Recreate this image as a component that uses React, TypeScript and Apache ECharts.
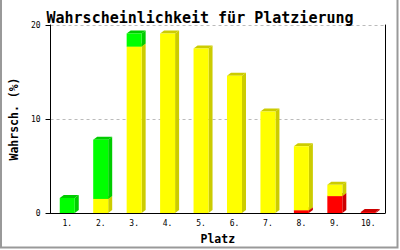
import React, { useEffect, useRef } from "react";
import * as echarts from "echarts";

const categories = ["1.", "2.", "3.", "4.", "5.", "6.", "7.", "8.", "9.", "10."];
const redValues = [0, 0, 0, 0, 0, 0, 0, 0.3, 1.8, 0.1];
const yellowValues = [0, 1.5, 17.7, 19.1, 17.5, 14.6, 10.8, 6.8, 1.2, 0];
const greenValues = [1.6, 6.3, 1.4, 0, 0, 0, 0, 0, 0, 0];

const seriesDefs = [
  { name: "rot", values: redValues, front: "#ff0000", side: "#cc0000", top: "#cc0000" },
  { name: "gelb", values: yellowValues, front: "#ffff00", side: "#cccc00", top: "#cccc00" },
  { name: "grün", values: greenValues, front: "#00ff00", side: "#00cc00", top: "#00cc00" },
];

const FONT = "'DejaVu Sans Mono', 'Liberation Mono', monospace";

export default function App() {
  const ref = useRef<HTMLDivElement>(null);
  useEffect(() => {
    if (!ref.current) return;
    const chart = echarts.init(ref.current, undefined, { renderer: "svg" });
    const bases = categories.map(() => 0);
    const series = seriesDefs.map((def) => {
      const data: number[][] = [];
      def.values.forEach((v, i) => {
        if (v > 0) {
          data.push([i, bases[i], bases[i] + v]);
          bases[i] += v;
        }
      });
      return {
        type: "custom",
        name: def.name,
        data,
        encode: { x: 0, y: [1, 2] },
        renderItem: (params: any, api: any) => {
          const i = api.value(0);
          const b = api.value(1);
          const t = api.value(2);
          const pT = api.coord([i, t]);
          const pB = api.coord([i, b]);
          const w = 15;
          const dx = 4;
          const dy = 3;
          const x0 = pT[0] - w / 2;
          const x1 = x0 + w;
          const yT = pT[1];
          const yB = pB[1];
          return {
            type: "group",
            children: [
              {
                type: "polygon",
                shape: { points: [[x1, yB], [x1 + dx, yB - dy], [x1 + dx, yT - dy], [x1, yT]] },
                style: { fill: def.side },
              },
              {
                type: "polygon",
                shape: { points: [[x0, yT], [x0 + dx, yT - dy], [x1 + dx, yT - dy], [x1, yT]] },
                style: { fill: def.top },
              },
              {
                type: "rect",
                shape: { x: x0, y: yT, width: w, height: yB - yT },
                style: { fill: def.front },
              },
            ],
          };
        },
      };
    });

    chart.setOption({
      animation: false,
      backgroundColor: "#ffffff",
      textStyle: { color: "#000" },
      title: {
        text: "Wahrscheinlichkeit für Platzierung",
        left: "center",
        top: 5,
        textStyle: { fontFamily: FONT, fontSize: 15, fontWeight: "bold", color: "#000" },
      },
      grid: { left: 43, right: 15, top: 25, bottom: 36 },
      xAxis: {
        type: "category",
        data: categories,
        name: "Platz",
        nameLocation: "middle",
        nameGap: 20,
        nameTextStyle: { fontFamily: FONT, fontSize: 11.5, fontWeight: "bold", color: "#000" },
        axisLine: { lineStyle: { color: "#000", width: 1 } },
        axisTick: { show: false },
        axisLabel: { fontFamily: FONT, fontSize: 8, color: "#000000", margin: 6 },
      },
      yAxis: [
        {
          type: "value",
          min: 0,
          max: 20,
          interval: 10,
          name: "Wahrsch. (%)",
          nameLocation: "middle",
          nameRotate: 90,
          nameGap: 24,
          nameTextStyle: { fontFamily: FONT, fontSize: 11.5, fontWeight: "bold", color: "#000" },
          axisLine: { show: true, lineStyle: { color: "#000", width: 1 } },
          axisTick: { show: true, length: 5, lineStyle: { color: "#000" } },
          axisLabel: { fontFamily: FONT, fontSize: 8, color: "#000000", margin: 10 },
          splitLine: { show: true, lineStyle: { color: "#bbbbbb", type: [3, 3] } },
        },
        {
          type: "value",
          min: 0,
          max: 20,
          interval: 10,
          position: "right",
          axisLine: { show: true, lineStyle: { color: "#000", width: 1 } },
          axisTick: { show: false },
          axisLabel: { show: false },
          splitLine: { show: false },
        },
      ],
      graphic: [
        {
          type: "polyline",
          shape: { points: [[1, 0], [1, 247.5], [397.5, 247.5], [397.5, 0]] },
          style: { stroke: "#999999", lineWidth: 2, fill: null },
          silent: true,
        },
      ],
      series,
    });
    return () => chart.dispose();
  }, []);
  return (
    <div
      ref={ref}
      style={{ position: "absolute", left: 0, top: 0, width: 400, height: 250 }}
    />
  );
}
